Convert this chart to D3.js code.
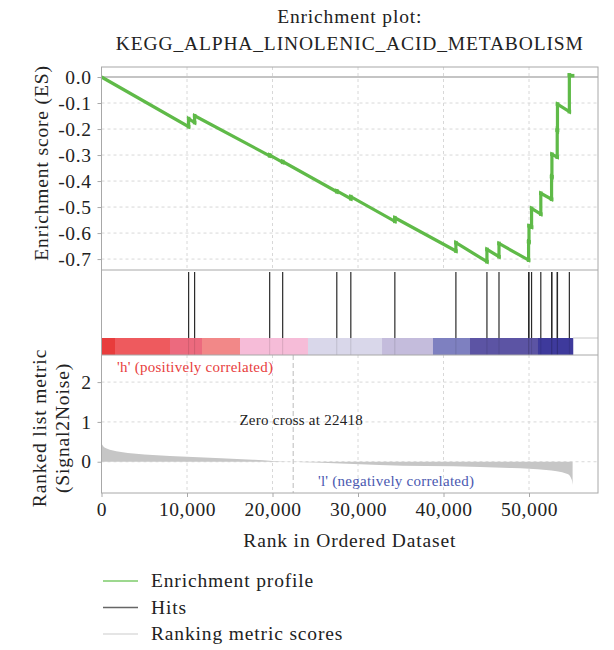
<!DOCTYPE html>
<html><head><meta charset="utf-8">
<script src="https://cdn.jsdelivr.net/npm/d3@7"></script>
<style>body{margin:0;background:#fff}svg{display:block}text{font-family:"Liberation Serif","DejaVu Serif",serif}</style>
</head><body><svg id="c" width="614" height="650"></svg>
<script>
// ---- data ----
const titleLines = ["Enrichment plot:", "KEGG_ALPHA_LINOLENIC_ACID_METABOLISM"];
const esTicks = [0.0, -0.1, -0.2, -0.3, -0.4, -0.5, -0.6, -0.7];
const metricTicks = [0, 1, 2];
const rankTicks = [0, 10000, 20000, 30000, 40000, 50000];
const hitRanks = [10190, 10890, 19670, 21190, 27520, 29160, 34310, 41450, 45080, 46490,
  49950, 50000, 50300, 51380, 52640, 52680, 53300, 53330, 54720];
const esRanks = [0, 10190, 10190, 10890, 10890, 19670, 19670, 21190, 21190, 27520, 27520,
  29160, 29160, 34310, 34310, 41450, 41450, 45080, 45080, 46490, 46490, 49950, 49950,
  50000, 50000, 50300, 50300, 51380, 51380, 52640, 52640, 52680, 52680, 53300, 53300,
  53330, 53330, 54720, 54720, 55100];
const esValues = [0, -0.191, -0.160, -0.175, -0.149, -0.303, -0.300, -0.328, -0.325, -0.441, -0.438,
  -0.468, -0.460, -0.555, -0.541, -0.669, -0.637, -0.710, -0.663, -0.691, -0.640, -0.704, -0.633,
  -0.634, -0.572, -0.577, -0.505, -0.527, -0.447, -0.470, -0.383, -0.384, -0.297, -0.308, -0.204,
  -0.205, -0.104, -0.133, 0.008, 0.005];
const metricRanks = [0, 100, 600, 2100, 6000, 10000, 14000, 17700, 20000, 22418, 25000, 32500,
  38000, 44300, 48000, 52000, 54500, 55000, 55100];
const metricValues = [0.46, 0.42, 0.33, 0.25, 0.17, 0.125, 0.09, 0.05, 0.02, 0, -0.02, -0.08,
  -0.11, -0.13, -0.16, -0.21, -0.31, -0.45, -0.58];
const heatStarts = [0, 1580, 8010, 11750, 16200, 24150, 32810, 38770, 43100, 51050];
const heatEnds   = [1580, 8010, 11750, 16200, 24150, 32810, 38770, 43100, 51050, 55140];
const heatColors = ["#e83c3c", "#ee5a5e", "#ec6a7e", "#f28888", "#f6bcd8", "#d9d7ea",
  "#c4bcdc", "#7e80c0", "#5c54a4", "#3e3a9c"];
const zeroCross = 22418;
const legendLabels = ["Enrichment profile", "Hits", "Ranking metric scores"];
const legendColors = ["#7ccb6a", "#666666", "#dddddd"];

// ---- layout ----
const L = 101.5, R = 598;
const esTop = 67, esBot = 270, hitBot = 338, heatBot = 355, mBot = 493;
const svg = d3.select("#c");
const x = d3.scaleLinear().domain([0, 58070]).range([L, R]);
const yES = d3.scaleLinear().domain([-0.742, 0.0385]).range([esBot, esTop]);
const yM = d3.scaleLinear().domain([-0.785, 2.68]).range([mBot, heatBot]);
const gridC = "#d8d8d8", frameC = "#a8a8a8";
const FS = 19.5, LS = 0.85;

// title
svg.selectAll("text.title").data(titleLines).join("text").attr("class", "title")
  .attr("x", (L + R) / 2).attr("y", (d, i) => 23 + i * 27).attr("text-anchor", "middle")
  .attr("font-size", FS).attr("letter-spacing", LS).attr("fill", "#222").text(d => d);

// ES gridlines
svg.append("g").selectAll("line").data(esTicks.slice(1)).join("line")
  .attr("x1", L).attr("x2", R).attr("y1", d => yES(d)).attr("y2", d => yES(d))
  .attr("stroke", gridC).attr("stroke-dasharray", "3,3");
svg.append("line").attr("x1", L).attr("x2", R).attr("y1", yES(0)).attr("y2", yES(0))
  .attr("stroke", "#b0b0b0").attr("stroke-width", 1.5);
// vertical grids in ES and metric panels
[[esTop, esBot], [heatBot, mBot]].forEach(([a, b]) => {
  svg.append("g").selectAll("line").data(rankTicks.slice(1)).join("line")
    .attr("x1", d => x(d)).attr("x2", d => x(d)).attr("y1", a).attr("y2", b)
    .attr("stroke", gridC).attr("stroke-dasharray", "3,3");
});
// metric horizontal grid
svg.append("g").selectAll("line").data(metricTicks).join("line")
  .attr("x1", L).attr("x2", R).attr("y1", d => yM(d)).attr("y2", d => yM(d))
  .attr("stroke", gridC).attr("stroke-dasharray", "3,3");

// heat bar
svg.append("g").selectAll("rect").data(heatColors).join("rect")
  .attr("x", (d, i) => x(heatStarts[i])).attr("width", (d, i) => x(heatEnds[i]) - x(heatStarts[i]) + 0.3)
  .attr("y", hitBot).attr("height", heatBot - hitBot).attr("fill", d => d);
svg.append("line").attr("x1", x(heatEnds[heatEnds.length - 1])).attr("x2", R)
  .attr("y1", hitBot).attr("y2", hitBot).attr("stroke", "#c8c8c8");

// hits
svg.append("g").selectAll("line").data(hitRanks).join("line")
  .attr("x1", d => x(d)).attr("x2", d => x(d)).attr("y1", esBot + 2).attr("y2", hitBot)
  .attr("stroke", "#2a2a2a").attr("stroke-width", 1.2);
svg.append("g").selectAll("line").data(hitRanks).join("line")
  .attr("x1", d => x(d)).attr("x2", d => x(d)).attr("y1", hitBot).attr("y2", heatBot)
  .attr("stroke", "#000").attr("stroke-opacity", 0.12).attr("stroke-width", 1);

// metric area
const mPts = metricRanks.map((r, i) => [r, metricValues[i]]);
svg.append("path").datum(mPts)
  .attr("d", d3.area().x(d => x(d[0])).y0(yM(0)).y1(d => yM(d[1])).curve(d3.curveMonotoneX))
  .attr("fill", "#c6c6c6");

// zero cross
svg.append("line").attr("x1", x(zeroCross)).attr("x2", x(zeroCross))
  .attr("y1", heatBot).attr("y2", mBot).attr("stroke", "#bbbbbb").attr("stroke-dasharray", "5,3");
svg.append("text").attr("x", x(zeroCross) + 8).attr("y", 425).attr("text-anchor", "middle")
  .attr("font-size", 15).attr("letter-spacing", 0.25).attr("fill", "#222").text("Zero cross at " + zeroCross);
svg.append("text").attr("x", 117).attr("y", 372).attr("font-size", 15).attr("letter-spacing", 0.25).attr("fill", "#e8403e")
  .text("'h' (positively correlated)");
svg.append("text").attr("x", 318).attr("y", 486).attr("font-size", 15).attr("letter-spacing", 0.25).attr("fill", "#4a58b0")
  .text("'l' (negatively correlated)");

// ES line
const esPts = esRanks.map((r, i) => [r, esValues[i]]);
svg.append("path").datum(esPts)
  .attr("d", d3.line().x(d => x(d[0])).y(d => yES(d[1])))
  .attr("fill", "none").attr("stroke", "#5fba48").attr("stroke-width", 3.2)
  .attr("stroke-linejoin", "miter");
svg.append("g").selectAll("rect").data(esPts.slice(1)).join("rect")
  .attr("x", d => x(d[0]) - 1.8).attr("y", d => yES(d[1]) - 1.8).attr("width", 3.6).attr("height", 3.6)
  .attr("fill", "#5fba48");

// frames
svg.append("rect").attr("x", L).attr("y", esTop).attr("width", R - L).attr("height", mBot - esTop)
  .attr("fill", "none").attr("stroke", frameC);
[esBot, heatBot].forEach(yy => svg.append("line").attr("x1", L).attr("x2", R)
  .attr("y1", yy).attr("y2", yy).attr("stroke", frameC));

// axes
const axES = svg.append("g").attr("transform", `translate(${L},0)`)
  .call(d3.axisLeft(yES).tickValues(esTicks).tickFormat(d3.format(".1f")).tickSize(4));
const axM = svg.append("g").attr("transform", `translate(${L},0)`)
  .call(d3.axisLeft(yM).tickValues(metricTicks).tickFormat(d3.format("d")).tickSize(4));
const axX = svg.append("g").attr("transform", `translate(0,${mBot})`)
  .call(d3.axisBottom(x).tickValues(rankTicks).tickFormat(d3.format(",")).tickSize(4));
[axES, axM, axX].forEach(a => {
  a.select(".domain").remove();
  a.selectAll(".tick line").attr("stroke", frameC);
  a.selectAll(".tick text").attr("font-family", "Liberation Serif").attr("font-size", FS)
    .attr("letter-spacing", 0.6).attr("fill", "#222");
});
axES.selectAll(".tick text").attr("x", -10).text(d => d === 0 ? "0.0" : d3.format(".1f")(d).replace("−", "-"));
axM.selectAll(".tick text").attr("x", -10);
axX.selectAll(".tick text").attr("y", 9);

// axis titles
const axisTitle = (tx, ty, rot, s) => svg.append("text")
  .attr("transform", `translate(${tx},${ty}) rotate(${rot})`).attr("text-anchor", "middle")
  .attr("font-size", FS).attr("letter-spacing", LS).attr("fill", "#222").text(s);
axisTitle(48, 163, -90, "Enrichment score (ES)");
axisTitle(46, 428, -90, "Ranked list metric");
axisTitle(69, 428, -90, "(Signal2Noise)");
axisTitle((L + R) / 2, 547, 0, "Rank in Ordered Dataset");

// legend
const lg = svg.append("g").selectAll("g").data(legendLabels).join("g")
  .attr("transform", (d, i) => `translate(0,${587 + i * 26.5})`);
lg.append("line").attr("x1", 103).attr("x2", 138).attr("y1", -6).attr("y2", -6)
  .attr("stroke", (d, i) => legendColors[i]).attr("stroke-width", 1.5);
lg.append("text").attr("x", 151).attr("y", 0).attr("font-size", FS).attr("letter-spacing", LS)
  .attr("fill", "#222").text(d => d);
</script></body></html>
